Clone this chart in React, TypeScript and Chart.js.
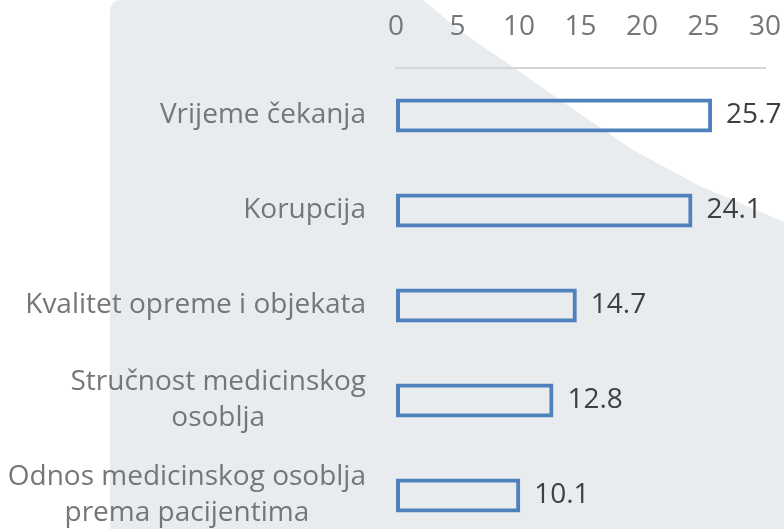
import React, { useEffect, useRef } from "react";
import { Chart, registerables } from "chart.js";
Chart.register(...registerables);

const categories: (string | string[])[] = [
  "Vrijeme čekanja",
  "Korupcija",
  "Kvalitet opreme i objekata",
  ["Stručnost medicinskog", "osoblja"],
  ["Odnos medicinskog osoblja", "prema pacijentima"],
];
const values = [25.7, 24.1, 14.7, 12.8, 10.1];
const xTickValues = [0, 5, 10, 15, 20, 25, 30];

const FONT = "'Open Sans'";
const FONT_SIZE = 28;
const LABEL_GRAY = "#767676";
const VALUE_GRAY = "#404040";
const BAR_BLUE = "#4f81bd";
const BG_GRAY = "#e9ecef";

const W = 784;
const H = 543;

const backgroundPlugin = {
  id: "bgShape",
  beforeDraw(chart: any) {
    const ctx = chart.ctx;
    ctx.save();
    ctx.fillStyle = "#ffffff";
    ctx.fillRect(0, 0, chart.width, chart.height);
    ctx.fillStyle = BG_GRAY;
    const r = 12;
    ctx.beginPath();
    ctx.moveTo(110, chart.height);
    ctx.lineTo(110, r);
    ctx.quadraticCurveTo(110, 0, 110 + r, 0);
    ctx.lineTo(423, 0);
    ctx.lineTo(463, 33);
    ctx.lineTo(513, 67);
    ctx.lineTo(560, 100);
    ctx.lineTo(633, 150);
    ctx.lineTo(700, 186);
    ctx.lineTo(784, 222);
    ctx.lineTo(784, chart.height);
    ctx.closePath();
    ctx.fill();
    ctx.restore();
  },
};

const yLabelPlugin = {
  id: "yLabels",
  afterDraw(chart: any) {
    const ctx = chart.ctx;
    const yScale = chart.scales.y;
    const rightEdge = yScale.right - 30;
    const lineH = 36;
    ctx.save();
    ctx.font = `${FONT_SIZE}px ${FONT}`;
    ctx.fillStyle = LABEL_GRAY;
    ctx.textAlign = "center";
    ctx.textBaseline = "middle";
    chart.data.labels.forEach((lab: string | string[], i: number) => {
      const lines = Array.isArray(lab) ? lab : [lab];
      const maxW = Math.max(...lines.map((l) => ctx.measureText(l).width));
      const cx = rightEdge - maxW / 2;
      const cy = yScale.getPixelForTick(i);
      lines.forEach((l, j) => {
        ctx.fillText(l, cx, cy + (j - (lines.length - 1) / 2) * lineH);
      });
    });
    ctx.restore();
  },
};

const valueLabelPlugin = {
  id: "valueLabels",
  afterDatasetsDraw(chart: any) {
    const ctx = chart.ctx;
    const meta = chart.getDatasetMeta(0);
    ctx.save();
    ctx.font = `${FONT_SIZE}px ${FONT}`;
    ctx.fillStyle = VALUE_GRAY;
    ctx.textAlign = "left";
    ctx.textBaseline = "middle";
    meta.data.forEach((bar: any, i: number) => {
      const v = chart.data.datasets[0].data[i];
      ctx.fillText(v.toFixed(1), bar.x + 14, bar.y);
    });
    ctx.restore();
  },
};

export default function App() {
  const ref = useRef<HTMLCanvasElement | null>(null);
  useEffect(() => {
    if (!ref.current) return;
    const chart = new Chart(ref.current, {
      type: "bar",
      data: {
        labels: categories as any,
        datasets: [
          {
            data: values,
            backgroundColor: "rgba(0,0,0,0)",
            borderColor: BAR_BLUE,
            borderWidth: 4,
            borderSkipped: false,
            categoryPercentage: 1,
            barPercentage: 0.36,
          },
        ],
      },
      options: {
        indexAxis: "y",
        animation: false,
        responsive: false,
        devicePixelRatio: 1,
        layout: { padding: { top: 0, right: 19, bottom: 0, left: 0 } },
        plugins: {
          legend: { display: false },
          tooltip: { enabled: false },
          title: { display: false },
        },
        scales: {
          x: {
            position: "top",
            min: xTickValues[0],
            max: xTickValues[xTickValues.length - 1],
            afterBuildTicks: (scale: any) => {
              scale.ticks = xTickValues.map((v) => ({ value: v }));
            },
            afterFit: (scale: any) => {
              scale.height = 68;
              scale.paddingLeft = 0;
              scale.paddingRight = 0;
            },
            grid: { display: false, drawTicks: false },
            border: { display: true, color: "#d6d6d6", width: 2 },
            ticks: {
              padding: 24,
              color: LABEL_GRAY,
              font: { family: FONT, size: FONT_SIZE },
              maxRotation: 0,
              autoSkip: false,
            },
          },
          y: {
            afterFit: (scale: any) => {
              scale.width = 396;
            },
            grid: { display: false, drawTicks: false },
            border: { display: false },
            ticks: { display: false },
          },
        },
      },
      plugins: [backgroundPlugin, yLabelPlugin, valueLabelPlugin],
    });
    return () => chart.destroy();
  }, []);
  return (
    <div
      style={{
        position: "fixed",
        left: 0,
        top: 0,
        width: W,
        height: 529,
        overflow: "hidden",
        background: "#ffffff",
      }}
    >
      <canvas ref={ref} width={W} height={H} style={{ display: "block" }} />
    </div>
  );
}
